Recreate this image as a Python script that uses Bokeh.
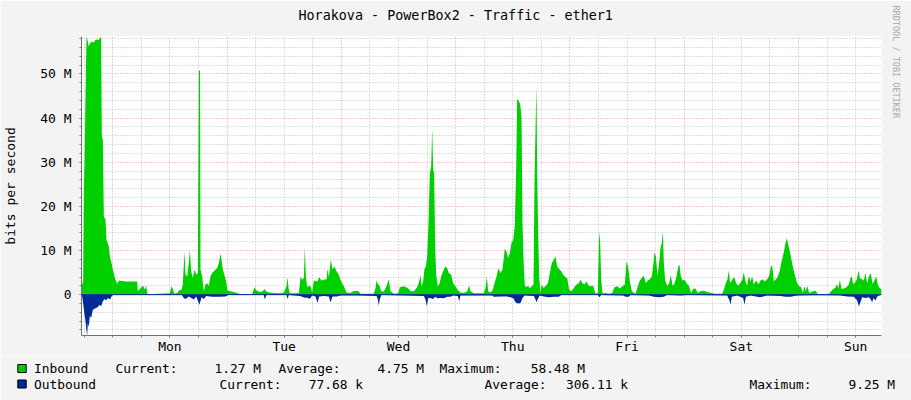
from bokeh.plotting import figure
from bokeh.layouts import column
from bokeh.models import FixedTicker, Span, Title, Range1d
from bokeh.core.properties import value
from bokeh.embed import file_html
from bokeh.resources import INLINE

MONO = "DejaVu Sans Mono"

# ---------------- data ----------------
title_text = "Horakova - PowerBox2 - Traffic - ether1"
y_axis_title = "bits per second"
credit_text = "RRDTOOL / TOBI OETIKER"
day_labels = ["Mon", "Tue", "Wed", "Thu", "Fri", "Sat", "Sun"]
y_tick_values = [0, 10, 20, 30, 40, 50]
y_tick_labels = ["0", "10 M", "20 M", "30 M", "40 M", "50 M"]
series_names = ["Inbound", "Outbound"]
series_colors = ["#00CF00", "#002A97"]
stat_names = ["Current:", "Average:", "Maximum:"]
inbound_stats = ["1.27 M", "4.75 M", "58.48 M"]
outbound_stats = ["77.68 k", "306.11 k", "9.25 M"]

# time axis in hours relative to Monday 00:00, values in Mbit/s
x_start, x_end = -6.57, 161.43
y_min, y_max = -9.25, 58.48

inbound_samples = [
    (-6.57, 2.3), (-6.43, 2.3), (-6.22, 3.0), (-6.08, 23.8), (-5.94, 29.8), (-5.73, 44.9),
    (-5.52, 58.48), (-5.31, 57.7), (-5.03, 56.2), (-4.82, 56.9), (-4.47, 57.3), (-3.98, 57.1),
    (-3.63, 57.7), (-3.28, 57.8), (-2.94, 57.7), (-2.58, 58.3), (-2.44, 58.4), (-2.30, 35.8),
    (-2.09, 35.1), (-1.88, 17.7), (-1.53, 17.0), (-1.32, 12.4), (-0.83, 10.9), (-0.62, 8.7),
    (-0.27, 7.2), (0.00, 5.7), (0.36, 4.1), (0.71, 3.0), (0.99, 2.5), (1.27, 3.2), (2.67, 3.0),
    (4.07, 3.0), (5.12, 3.0), (5.26, 0.75), (5.68, 1.3), (6.03, 1.7), (6.38, 2.0), (6.73, 1.1),
    (7.00, 2.0), (7.29, 0.1),
    (11.98, 0.3), (12.33, 1.9), (12.61, 1.3), (12.89, 0.2), (13.52, 0.4), (14.00, 1.0),
    (14.43, 1.1), (14.70, 2.3), (15.06, 9.8), (15.27, 4.5), (15.62, 4.1), (15.97, 7.2),
    (16.18, 10.2), (16.46, 5.3), (16.81, 3.8), (17.16, 5.7), (17.51, 4.5), (17.86, 4.9),
    (18.08, 50.8), (18.32, 50.8), (18.42, 5.7), (18.77, 4.1), (19.12, 0.8), (19.47, 2.3),
    (19.82, 2.6), (20.17, 2.0), (20.52, 4.1), (20.87, 4.9), (21.22, 5.3), (21.57, 5.7),
    (21.92, 6.0), (22.27, 7.2), (22.62, 9.3), (22.83, 7.9), (23.11, 5.7), (23.53, 4.1),
    (23.81, 3.0), (24.09, 0.9), (24.72, 0.75), (25.42, 0.6), (26.12, 0.4), (26.82, 0.1),
    (29.27, 0.1), (29.76, 1.7), (30.11, 1.0), (30.53, 0.75), (31.02, 0.6), (31.51, 0.75),
    (31.86, 1.3), (32.21, 0.75), (32.77, 0.5), (33.82, 0.4),
    (35.22, 0.3), (35.92, 0.5), (36.48, 1.9), (36.69, 4.0), (36.90, 1.5), (37.18, 0.3),
    (38.37, 0.3), (39.07, 0.4), (39.42, 4.0), (39.84, 3.4), (40.12, 3.8), (40.33, 10.8),
    (40.54, 4.1), (40.82, 1.7), (41.17, 2.0), (41.52, 1.9), (41.87, 0.5), (42.22, 3.2),
    (42.92, 3.0), (43.41, 4.0), (43.76, 3.2), (44.32, 3.4), (44.88, 3.5), (45.09, 5.8),
    (45.37, 4.0), (45.79, 7.9), (46.14, 5.8), (46.56, 6.3), (46.98, 5.3), (47.47, 4.5),
    (47.96, 3.0), (48.52, 1.9), (49.08, 0.5), (49.92, 0.4), (50.48, 0.75), (51.04, 0.9),
    (51.60, 0.8), (52.02, 0.2), (54.82, 0.2), (55.17, 1.5), (55.38, 3.2), (55.66, 2.5),
    (56.01, 2.0), (56.36, 0.75), (56.92, 0.7), (57.48, 1.9), (57.97, 3.5), (58.32, 0.75),
    (59.02, 0.2), (59.93, 0.3), (60.28, 1.7), (61.12, 1.9), (61.96, 1.5), (62.52, 0.75),
    (63.22, 0.8), (63.92, 1.7), (64.34, 3.0), (64.62, 4.5), (64.83, 1.9), (65.18, 3.0),
    (65.46, 5.8), (65.74, 6.4), (66.02, 8.7), (66.30, 16.2), (66.58, 27.5), (66.86, 29.0),
    (67.07, 37.6), (67.28, 28.3), (67.49, 27.4), (67.70, 10.9), (67.91, 4.5), (68.26, 1.9),
    (68.61, 2.5), (68.96, 4.1), (69.38, 5.3), (69.80, 6.4), (70.22, 6.0), (70.57, 4.9),
    (71.06, 4.5), (71.48, 2.6), (71.97, 1.9), (72.46, 1.0), (73.02, 0.5), (73.72, 0.4),
    (74.42, 0.75), (74.84, 2.0), (75.12, 0.75), (75.82, 0.3), (77.92, 0.3), (78.27, 1.5),
    (78.55, 4.1), (78.83, 0.75), (79.32, 0.5), (79.81, 1.1), (80.16, 2.6), (80.58, 4.1),
    (81.00, 6.0), (81.42, 4.9), (81.84, 5.7), (82.33, 10.4), (82.68, 9.8), (83.03, 8.3),
    (83.38, 9.4), (83.73, 11.7), (84.08, 12.4), (84.43, 15.8), (84.71, 28.3), (84.92, 44.3),
    (85.20, 44.0), (85.55, 43.2), (85.83, 40.3), (86.04, 16.2), (86.25, 7.9), (86.53, 2.0),
    (86.88, 1.7), (87.16, 2.0), (87.58, 1.5), (88.00, 1.9), (88.35, 2.3), (88.56, 25.3),
    (88.84, 41.1), (88.98, 47.3), (89.12, 27.5), (89.33, 14.0), (89.54, 4.1), (89.82, 0.3),
    (90.10, 2.3), (90.45, 1.5), (90.87, 1.9), (91.36, 2.6), (91.78, 4.9), (92.20, 7.2),
    (92.62, 7.9), (92.97, 8.7), (93.32, 6.3), (93.74, 5.8), (94.16, 5.3), (94.58, 4.5),
    (95.00, 4.0), (95.42, 3.8), (95.84, 1.1), (96.33, 0.75), (96.82, 1.5), (97.38, 2.3),
    (97.86, 2.6), (98.22, 3.4), (98.64, 2.6), (99.06, 2.3), (99.48, 3.0), (99.97, 2.0),
    (100.32, 1.9), (100.88, 2.0), (101.37, 0.2), (101.86, 0.5), (102.14, 14.5), (102.35, 11.7),
    (102.56, 3.5), (102.84, 0.3), (103.47, 0.4), (104.17, 0.2), (104.87, 0.4), (105.36, 1.7),
    (105.92, 1.9), (106.48, 1.4), (107.04, 1.9), (107.53, 2.3), (107.88, 7.5), (108.23, 6.3),
    (108.58, 3.0), (109.00, 0.75), (109.77, 0.2), (110.26, 1.9), (110.68, 3.2), (111.10, 3.8),
    (111.52, 4.3), (111.94, 2.6), (112.36, 3.2), (112.78, 3.5), (113.20, 4.1), (113.55, 7.2),
    (113.76, 9.6), (114.04, 8.7), (114.39, 4.3), (114.74, 7.2), (115.02, 10.6), (115.30, 11.7),
    (115.51, 14.3), (115.72, 7.2), (116.00, 3.2), (116.42, 2.0), (116.84, 2.5), (117.19, 4.5),
    (117.54, 2.0), (117.96, 2.5), (118.38, 4.1), (118.73, 6.3), (119.01, 6.8), (119.29, 4.1),
    (119.64, 3.2), (120.06, 3.4), (120.48, 2.6), (120.97, 2.0), (121.46, 0.4), (121.88, 1.3),
    (122.37, 1.4), (122.86, 0.4), (123.42, 0.8), (124.12, 0.9), (124.82, 0.6), (125.66, 0.4),
    (126.57, 0.2), (127.97, 0.2), (128.32, 1.1), (128.74, 2.6), (129.09, 3.5), (129.37, 5.5),
    (129.65, 2.6), (130.07, 3.4), (130.49, 4.0), (130.91, 2.6), (131.33, 2.0), (131.75, 2.6),
    (132.17, 3.4), (132.52, 5.1), (132.87, 3.0), (133.22, 2.0), (133.57, 4.3), (133.92, 3.0),
    (134.27, 4.1), (134.62, 2.3), (135.11, 3.2), (135.60, 2.3), (136.02, 3.2), (136.44, 3.5),
    (136.93, 3.0), (137.42, 3.5), (137.84, 4.3), (138.19, 6.3), (138.47, 6.6), (138.82, 3.0),
    (139.24, 3.5), (139.66, 4.1), (140.08, 5.5), (140.50, 7.8), (140.92, 9.6), (141.27, 11.7),
    (141.55, 12.8), (141.83, 11.3), (142.11, 10.2), (142.46, 8.3), (142.81, 6.3), (143.22, 4.5),
    (143.71, 2.6), (144.13, 1.9), (144.55, 1.7), (144.90, 0.4), (145.26, 1.9), (145.54, 0.75),
    (145.82, 2.0), (146.24, 0.4), (147.08, 0.75), (147.57, 0.9), (148.06, 0.15), (150.37, 0.15),
    (150.86, 0.75), (151.28, 1.3), (151.70, 1.5), (152.05, 2.3), (152.40, 1.5), (152.68, 3.4),
    (153.03, 1.3), (153.52, 1.4), (154.08, 1.7), (154.57, 2.3), (154.92, 3.8), (155.20, 4.1),
    (155.48, 2.3), (155.90, 2.8), (156.25, 3.5), (156.60, 5.5), (156.88, 3.8), (157.30, 3.5),
    (157.72, 3.2), (158.07, 4.9), (158.42, 2.6), (158.84, 4.3), (159.19, 4.8), (159.54, 2.5),
    (159.96, 3.2), (160.31, 4.1), (160.66, 2.3), (161.01, 1.5), (161.36, 1.27), (161.43, 1.27),
]

outbound_samples = [
    (-6.57, 0.0), (-6.43, 0.3), (-6.15, 2.6), (-5.94, 4.5), (-5.73, 6.0), (-5.52, 8.3),
    (-5.38, 9.25), (-5.24, 6.4), (-5.03, 7.3), (-4.82, 4.8), (-4.54, 5.3), (-4.19, 3.4),
    (-3.84, 3.2), (-3.49, 3.0), (-3.14, 2.8), (-2.79, 2.3), (-2.44, 2.6), (-2.09, 1.5),
    (-1.74, 1.0), (-1.39, 1.3), (-1.05, 0.75), (-0.55, 1.1), (-0.27, 0.4), (0.0, 0.1),
    (14.5, 0.1), (14.92, 0.75), (15.27, 1.0), (15.97, 0.4), (17.02, 1.1), (17.51, 0.4),
    (18.21, 2.3), (18.63, 0.6), (19.12, 1.0), (19.61, 0.3), (20.87, 0.45), (22.27, 0.45),
    (23.67, 0.4), (24.23, 0.1), (31.72, 0.1), (31.93, 1.1), (32.28, 0.1), (36.48, 0.1),
    (36.69, 1.0), (36.97, 0.1), (39.28, 0.3), (39.77, 0.5), (40.33, 0.7), (40.96, 0.7),
    (41.38, 1.0), (41.87, 0.2), (42.57, 0.4), (42.99, 1.9), (43.34, 0.4), (44.32, 0.3),
    (45.37, 0.4), (45.72, 1.7), (46.14, 0.4), (47.12, 0.4), (47.82, 0.2), (51.32, 0.2),
    (55.38, 0.3), (55.66, 1.1), (55.87, 2.5), (56.08, 1.0), (56.43, 0.1), (65.32, 0.3),
    (65.67, 1.1), (65.95, 2.6), (66.23, 0.8), (66.72, 0.75), (67.21, 1.0), (67.77, 0.5),
    (68.12, 0.8), (68.82, 0.75), (69.52, 0.8), (70.22, 0.5), (70.92, 0.5), (71.48, 0.2),
    (72.46, 0.3), (72.74, 1.5), (73.02, 0.2), (79.67, 0.2), (80.02, 0.5), (81.42, 0.4),
    (82.82, 0.4), (84.08, 0.75), (84.57, 1.7), (85.06, 2.0), (85.62, 1.9), (86.04, 0.75),
    (86.46, 0.2), (88.42, 0.3), (88.77, 1.1), (88.98, 1.7), (89.33, 0.8), (89.68, 0.2),
    (90.52, 0.4), (91.57, 0.6), (92.62, 0.5), (93.67, 0.5), (94.16, 0.1), (101.86, 0.1),
    (102.21, 0.6), (102.56, 0.1), (107.18, 0.2), (107.67, 0.5), (108.37, 0.45), (108.72, 0.1),
    (112.57, 0.2), (113.62, 0.5), (114.67, 0.6), (115.72, 0.5), (116.42, 0.1), (119.2, 0.2),
    (120.62, 0.1), (129.02, 0.2), (129.51, 1.3), (129.72, 2.3), (130.0, 0.5), (131.12, 0.2),
    (132.38, 0.75), (132.66, 2.3), (132.94, 0.5), (133.92, 0.2), (135.88, 0.6), (136.37, 0.5),
    (137.42, 0.2), (140.22, 0.3), (141.27, 0.45), (142.32, 0.45), (143.71, 0.2), (147.22, 0.15),
    (150.02, 0.15), (152.82, 0.2), (154.22, 0.4), (155.62, 0.5), (156.32, 1.3), (156.67, 2.6),
    (157.02, 1.7), (157.37, 0.6), (158.07, 0.75), (158.77, 0.6), (159.12, 1.0), (159.47, 1.7),
    (159.75, 0.75), (160.17, 1.3), (160.52, 0.4), (161.22, 0.08), (161.43, 0.08),
]

in_hours = [h for h, _ in inbound_samples]
in_mbps = [v for _, v in inbound_samples]
out_hours = [h for h, _ in outbound_samples]
out_mbps = [v for _, v in outbound_samples]

BG = "#F3F3F3"
W = 911
MAIN_H = 356

# ---------------- main chart ----------------
p = figure(width=W, height=MAIN_H, output_backend="svg", toolbar_location=None,
           x_range=(x_start, x_end), y_range=(y_min, y_max),
           min_border_left=81, min_border_right=30, min_border_top=36, min_border_bottom=20)
p.frame_align = False
p.border_fill_color = BG
p.background_fill_color = "#FFFFFF"
p.outline_line_color = None

p.title.text = title_text
p.title.align = "left"
p.title.offset = 217
p.title.text_font = MONO
p.title.text_font_size = "13.4px"
p.title.text_font_style = "normal"
p.title.text_color = "#000000"
p.title.standoff = 0
# empty spacer between the title and the plotting area
p.add_layout(Title(text="\u00a0", text_font_size="1px", standoff=10.5), "above")

p.add_layout(Title(text=credit_text, align="left", offset=-31, text_font=MONO,
                   text_font_size="8.5px", text_font_style="normal",
                   text_color="#A8A8A8", standoff=18), "right")

noon = [12 + 24 * i for i in range(len(day_labels))]
midnights = [24 * i for i in range(len(day_labels))]
six_hours = list(range(-6, 162, 6))
y_minor = list(range(-8, 59, 2))

p.xaxis.ticker = FixedTicker(ticks=noon, minor_ticks=six_hours)
p.xaxis.major_label_overrides = dict(zip(noon, day_labels))
p.yaxis.ticker = FixedTicker(ticks=y_tick_values, minor_ticks=y_minor)
p.yaxis.major_label_overrides = dict(zip(y_tick_values, y_tick_labels))

for ax in (p.xaxis[0], p.yaxis[0]):
    ax.axis_line_color = "#707070"
    ax.major_tick_line_color = "#808080"
    ax.minor_tick_line_color = "#808080"
    ax.major_tick_in = 0
    ax.minor_tick_in = 0
    ax.major_tick_out = 2
    ax.minor_tick_out = 2
    ax.major_label_text_font = MONO
    ax.major_label_text_font_size = "13px"
    ax.major_label_text_color = "#000000"
p.yaxis.major_label_standoff = 8
p.xaxis.major_label_standoff = 1
p.yaxis.axis_label = y_axis_title
p.yaxis.axis_label_text_font = MONO
p.yaxis.axis_label_text_font_size = "13px"
p.yaxis.axis_label_text_font_style = "normal"
p.yaxis.axis_label_text_color = "#000000"
p.yaxis.axis_label_standoff = 19

p.xgrid.ticker = FixedTicker(ticks=midnights, minor_ticks=[h for h in six_hours if h % 24 != 0])
p.ygrid.ticker = FixedTicker(ticks=y_tick_values, minor_ticks=[v for v in y_minor if v % 10 != 0])
for g in (p.xgrid[0], p.ygrid[0]):
    g.grid_line_color = "#F09090"
    g.grid_line_dash = "1 2"
    g.grid_line_alpha = 0.9
    g.minor_grid_line_color = "#B8B8B8"
    g.minor_grid_line_dash = "1 2"
    g.minor_grid_line_alpha = 0.9

p.varea(x=in_hours, y1=[0] * len(in_hours), y2=in_mbps, fill_color=series_colors[0])
p.varea(x=out_hours, y1=[0] * len(out_hours), y2=[-v for v in out_mbps],
        fill_color=series_colors[1])
p.add_layout(Span(location=0, dimension="width", line_color=series_colors[1], line_width=1))

# ---------------- legend strip (pixel coordinates of the strip) ----------------
STRIP_H = 400 - MAIN_H
leg = figure(width=W, height=STRIP_H, output_backend="svg", toolbar_location=None,
             x_range=Range1d(0, W), y_range=Range1d(STRIP_H, 0),
             x_axis_location=None, y_axis_location=None, min_border=0)
leg.frame_align = False
leg.border_fill_color = BG
leg.background_fill_color = BG
leg.outline_line_color = None
leg.xgrid.visible = False
leg.ygrid.visible = False

row_y = [12, 27.5]
box_left, box_right, box_half = 17.3, 25.7, 4.0
leg.quad(left=[box_left] * 2, right=[box_right] * 2,
         top=[y - box_half for y in row_y], bottom=[y + box_half for y in row_y],
         fill_color=series_colors, line_color="#000000", line_width=1)

name_x = [33.5, 33.5]
label_x = [[115, 278, 439], [219, 484, 749]]
value_x = [[260.5, 423.5, 584.5], [362.5, 627.5, 894.5]]
stats = [inbound_stats, outbound_stats]

lt_x, lt_y, lt_t = [], [], []
rt_x, rt_y, rt_t = [], [], []
for i in range(2):
    lt_x.append(name_x[i]); lt_y.append(row_y[i]); lt_t.append(series_names[i])
    for j in range(3):
        lt_x.append(label_x[i][j]); lt_y.append(row_y[i]); lt_t.append(stat_names[j])
        rt_x.append(value_x[i][j]); rt_y.append(row_y[i]); rt_t.append(stats[i][j])

leg.text(x=lt_x, y=lt_y, text=lt_t, text_align="left", text_baseline="middle",
         text_font=value(MONO), text_font_size="12.9px", text_color="#000000")
leg.text(x=rt_x, y=rt_y, text=rt_t, text_align="right", text_baseline="middle",
         text_font=value(MONO), text_font_size="12.9px", text_color="#000000")

layout = column(p, leg, spacing=0)
open("out.html", "w").write(file_html(layout, INLINE))
